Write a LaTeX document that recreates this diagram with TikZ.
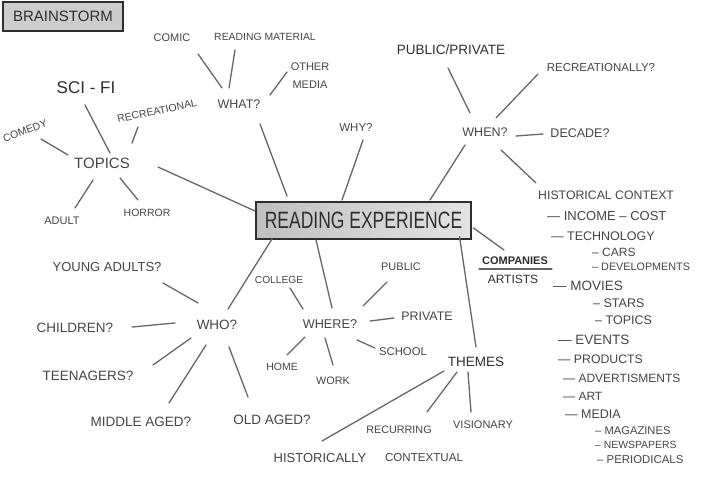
\documentclass[tikz,border=0pt]{standalone}
\usepackage{fontspec}
\setmainfont{Liberation Sans}
\definecolor{pencil}{HTML}{454545}
\definecolor{pencildark}{HTML}{2E2E2E}
\definecolor{lead}{HTML}{666666}
\tikzset{
  hw/.style={font=\fontsize{#1}{#1}\selectfont, text=pencil, inner sep=1pt},
  hwd/.style={font=\fontsize{#1}{#1}\selectfont, text=pencildark, inner sep=1pt},
  item/.style={font=\fontsize{#1}{#1}\selectfont, text=pencil, anchor=west, inner sep=0pt},
  conn/.style={draw=lead, line width=1.3pt, line cap=round},
  titlebox/.style={draw=pencildark, line width=1.2pt, inner sep=0pt},
}
\begin{document}
\begin{tikzpicture}[x=1pt,y=-1pt]
\useasboundingbox (0,0) rectangle (701,486);
\fill[white] (0,0) rectangle (701,486);

% title boxes
\node[titlebox, fill=gray!40, minimum width=120pt, minimum height=29pt, hwd=15] (brain) at (63,16.5) {BRAINSTORM};
\node[titlebox, line width=1.3pt, left color=gray!50, right color=gray!22, minimum width=215pt, minimum height=37pt, text=pencildark, font=\fontsize{17.5}{17.5}\selectfont] (re) at (363.5,220.5) {\scalebox{1}[1.35]{READING EXPERIENCE}};

% top left
\node[hw=11] (comic) at (172,38) {COMIC};
\node[hw=10.4] (readmat) at (265,37) {READING MATERIAL};
\node[text=pencil, inner sep=1pt, align=center, font=\fontsize{11}{18}\selectfont] (om) at (310,76) {OTHER\\MEDIA};
\node[hwd=17] (scifi) at (86,88) {SCI - FI};
\node[hw=10.5, rotate=12] (rec) at (157,111) {RECREATIONAL};
\node[hw=12.5] (what) at (239,104) {WHAT?};
\node[hw=10.5, rotate=20] (comedy) at (25,131) {COMEDY};
\node[hw=15] (topics) at (102,163) {TOPICS};
\node[hw=11.5] (why) at (356,127) {WHY?};
\node[hw=11] (adult) at (62,221) {ADULT};
\node[hw=10.5] (horror) at (147,213) {HORROR};

% top right
\node[hwd=13.5] (pp) at (451,50) {PUBLIC/PRIVATE};
\node[hw=11.5] (recy) at (601,68) {RECREATIONALLY?};
\node[hw=12.5] (when) at (485,132) {WHEN?};
\node[hw=12.5] (decade) at (580,133) {DECADE?};
\node[item=12.3] (hist) at (538,195) {HISTORICAL CONTEXT};
\node[item=13] (l1) at (547,216) {— INCOME – COST};
\node[item=12.5] (l2) at (551,236) {— TECHNOLOGY};
\node[item=12] (l3) at (592,252) {– CARS};
\node[item=10.8] (l4) at (592,267) {– DEVELOPMENTS};
\node[item=13.5] (l5) at (553,286) {— MOVIES};
\node[item=12.5] (l6) at (593,303) {– STARS};
\node[item=12.5] (l7) at (595,320) {– TOPICS};
\node[item=13.5] (l8) at (558,340) {— EVENTS};
\node[item=12.3] (l9) at (558,359) {— PRODUCTS};
\node[item=12] (l10) at (563,378) {— ADVERTISMENTS};
\node[item=12] (l11) at (563,396) {— ART};
\node[item=12.5] (l12) at (565,414) {— MEDIA};
\node[item=11.2] (l13) at (595,431) {– MAGAZINES};
\node[item=10.4] (l14) at (595,445) {– NEWSPAPERS};
\node[item=11.4] (l15) at (597,460) {– PERIODICALS};
\node[text=pencildark, inner sep=1pt, font=\fontsize{11}{11}\selectfont\bfseries] (companies) at (515,261) {COMPANIES};
\node[hwd=12] (artists) at (513,279) {ARTISTS};

% bottom
\node[hw=13] (ya) at (107,267) {YOUNG ADULTS?};
\node[hw=10.2] (college) at (279,280) {COLLEGE};
\node[hw=11] (public) at (401,267) {PUBLIC};
\node[hw=13.5] (who) at (217,325) {WHO?};
\node[hw=12.7] (where) at (330,324) {WHERE?};
\node[hw=12.4] (private) at (427,316) {PRIVATE};
\node[hw=13.5] (children) at (75,328) {CHILDREN?};
\node[hw=10.5] (home) at (282,367) {HOME};
\node[hw=11.3] (school) at (403,352) {SCHOOL};
\node[hw=13.5] (teen) at (88,376) {TEENAGERS?};
\node[hw=10.8] (work) at (333,381) {WORK};
\node[hwd=13.5] (themes) at (476,362) {THEMES};
\node[hw=13.5] (middle) at (141,422) {MIDDLE AGED?};
\node[hw=13.5] (old) at (272,420) {OLD AGED?};
\node[hw=10.8] (recurring) at (399,430) {RECURRING};
\node[hw=11] (visionary) at (483,425) {VISIONARY};
\node[hw=13] (histly) at (320,458) {HISTORICALLY};
\node[hw=11.6] (contextual) at (424,458) {CONTEXTUAL};

% connectors
\draw[conn] ([shift={(26,16)}]comic.center) -- ([shift={(-17,-16)}]what.center);
\draw[conn] ([shift={(-30,13)}]readmat.center) -- ([shift={(-10,-16)}]what.center);
\draw[conn] ([shift={(-23,-4)}]om.center) -- ([shift={(31,-9)}]what.center);
\draw[conn] ([shift={(21,20)}]what.center) -- ([shift={(-76.5,-24.5)}]re.center);
\draw[conn] ([shift={(-1,17)}]scifi.center) -- ([shift={(8,-10)}]topics.center);
\draw[conn] ([shift={(-19,16)}]rec.center) -- ([shift={(30,-20)}]topics.center);
\draw[conn] ([shift={(16,8)}]comedy.center) -- ([shift={(-34,-8)}]topics.center);
\draw[conn] ([shift={(-9,17)}]topics.center) -- ([shift={(13,-13)}]adult.center);
\draw[conn] ([shift={(18,15)}]topics.center) -- ([shift={(-9,-13)}]horror.center);
\draw[conn] ([shift={(56,4)}]topics.center) -- ([shift={(-108.5,-9.5)}]re.center);
\draw[conn] ([shift={(7,13)}]why.center) -- ([shift={(-21.5,-20.5)}]re.center);
\draw[conn] ([shift={(-20,13)}]when.center) -- ([shift={(66.5,-20.5)}]re.center);
\draw[conn] ([shift={(-3,18)}]pp.center) -- ([shift={(-15,-19)}]when.center);
\draw[conn] ([shift={(-63,6)}]recy.center) -- ([shift={(11,-14)}]when.center);
\draw[conn] ([shift={(31,4)}]when.center) -- ([shift={(-37,1)}]decade.center);
\draw[conn] ([shift={(16,18)}]when.center) -- ([shift={(-2,-12)}]hist.west);
\draw[conn] ([shift={(110,7.5)}]re.center) -- ([shift={(-11,-11)}]companies.center);
\draw[conn] ([shift={(-36,8)}]companies.center) -- ([shift={(37,8)}]companies.center);
\draw[conn] ([shift={(96,16)}]re.center) -- ([shift={(0,-15)}]themes.center);
\draw[conn] ([shift={(-91.5,18.5)}]re.center) -- ([shift={(11,-16)}]who.center);
\draw[conn] ([shift={(-47.5,19.5)}]re.center) -- ([shift={(2,-16)}]where.center);
\draw[conn] ([shift={(56,16)}]ya.center) -- ([shift={(-19,-22)}]who.center);
\draw[conn] ([shift={(57,-1)}]children.center) -- ([shift={(-42,-2)}]who.center);
\draw[conn] ([shift={(65,-11)}]teen.center) -- ([shift={(-26,13)}]who.center);
\draw[conn] ([shift={(28,-19)}]middle.center) -- ([shift={(-11,20)}]who.center);
\draw[conn] ([shift={(-24,-23)}]old.center) -- ([shift={(12,22)}]who.center);
\draw[conn] ([shift={(11,8)}]college.center) -- ([shift={(-27,-15)}]where.center);
\draw[conn] ([shift={(-14,15)}]public.center) -- ([shift={(33,-18)}]where.center);
\draw[conn] ([shift={(40,-3)}]where.center) -- ([shift={(-33,2)}]private.center);
\draw[conn] ([shift={(27,16)}]where.center) -- ([shift={(-28,-4)}]school.center);
\draw[conn] ([shift={(-25,13)}]where.center) -- ([shift={(5,-12)}]home.center);
\draw[conn] ([shift={(-5,14)}]where.center) -- ([shift={(0,-16)}]work.center);
\draw[conn] ([shift={(-32,9)}]themes.center) -- ([shift={(2,-17)}]histly.center);
\draw[conn] ([shift={(-19,10)}]themes.center) -- ([shift={(28,-18)}]recurring.center);
\draw[conn] ([shift={(-8,10)}]themes.center) -- ([shift={(-12,-13)}]visionary.center);
\end{tikzpicture}
\end{document}
